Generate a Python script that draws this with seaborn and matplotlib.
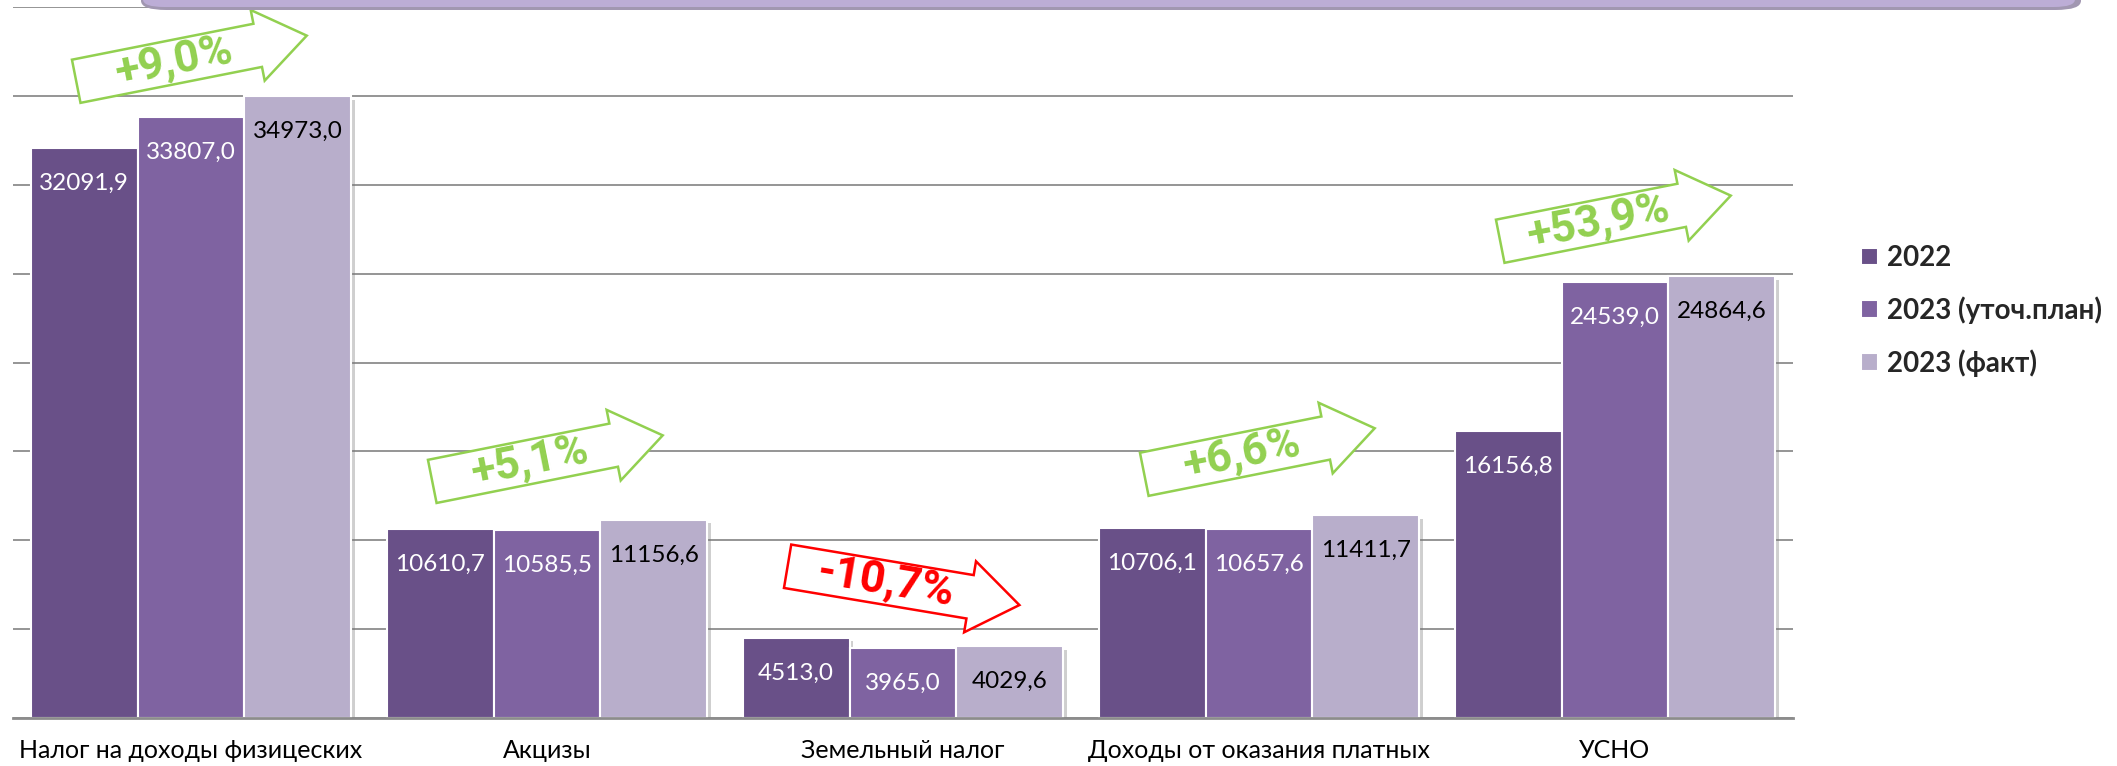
import numpy as np
import pandas as pd
import matplotlib
matplotlib.use("Agg")
import matplotlib.pyplot as plt
import matplotlib.transforms as mtransforms
import matplotlib.patheffects as pe
from matplotlib.patches import Polygon, FancyBboxPatch
import seaborn as sns

# --- данные ---
kategorii = ["Налог на доходы физицеских", "Акцизы", "Земельный налог",
             "Доходы от оказания платных", "УСНО"]
serii = ["2022", "2023 (уточ.план)", "2023 (факт)"]
znach_2022 = [32091.9, 10610.7, 4513.0, 10706.1, 16156.8]
znach_plan = [33807.0, 10585.5, 3965.0, 10657.6, 24539.0]
znach_fakt = [34973.0, 11156.6, 4029.6, 11411.7, 24864.6]

tsveta = ["#695088", "#7F63A1", "#B8AECB"]
tsvet_teksta = ["white", "white", "black"]

# центры стрелок (значение по оси y) и наклон
strelka_y = [37100, 14600, 7450, 15000, 28100]
strelka_ugol = [11.2, 11.3, -9.5, 11.3, 11.2]

df = pd.DataFrame({
    "kat": kategorii * 3,
    "seriya": np.repeat(serii, len(kategorii)),
    "val": znach_2022 + znach_plan + znach_fakt,
})

sns.set_style("white")
plt.rcParams["font.family"] = ["Lato", "Open Sans", "DejaVu Sans"]

fig = plt.figure(figsize=(21.17, 7.66), dpi=100)
ax = fig.add_axes([13 / 2117, 48 / 766, 1780 / 2117, 711 / 766])

sns.barplot(data=df, x="kat", y="val", hue="seriya", palette=tsveta,
            width=0.9, gap=0, saturation=1, edgecolor="white", linewidth=1.5,
            ax=ax)

ten = [pe.SimplePatchShadow(offset=(2.5, -2.5), shadow_rgbFace="#777777", alpha=0.35), pe.Normal()]
for k, cont in enumerate(ax.containers):
    for bar in cont:
        bar.set_path_effects(ten)
    podpisi = [f"{b.get_height():.1f}".replace(".", ",") for b in cont]
    ax.bar_label(cont, labels=podpisi, padding=-33, color=tsvet_teksta[k], fontsize=17.5)

# оси и сетка
ax.set_xlim(-0.5, 4.5)
ax.set_ylim(0, 40000)
ax.set_yticks(np.arange(0, 40001, 5000))
ax.set_yticklabels([])
ax.yaxis.grid(True, color="#8C8C8C", linewidth=1.3)
ax.set_axisbelow(True)
ax.tick_params(axis="y", length=0)
ax.set_xlabel("")
ax.set_ylabel("")
for s in ["top", "right", "left"]:
    ax.spines[s].set_visible(False)
ax.spines["bottom"].set_color("#8C8C8C")
ax.spines["bottom"].set_linewidth(2)
ax.set_xticks(np.arange(-0.5, 5, 1), minor=True)
ax.tick_params(axis="x", which="major", length=0, pad=15, labelsize=18, labelcolor="black")
ax.tick_params(axis="x", which="minor", length=9, width=1.2, color="#8C8C8C")

# легенда
sns.move_legend(ax, loc="center left", bbox_to_anchor=(1836 / 2117, 1 - 311 / 766),
                bbox_transform=fig.transFigure, frameon=False, title=None,
                prop={"weight": "bold", "size": 20}, handlelength=0.6, handleheight=0.6,
                handletextpad=0.35, labelspacing=0.9)

# стрелки с процентом изменения
forma = np.array([(-117, -22), (68, -22), (68, -36), (118, 0), (68, 36), (68, 22), (-117, 22)])
for i in range(len(kategorii)):
    izm = (znach_fakt[i] / znach_2022[i] - 1) * 100
    tekst = f"{izm:+.1f}%".replace(".", ",")
    col = "#92D050" if izm >= 0 else "#FF0000"
    ugol = strelka_ugol[i]
    tr = mtransforms.Affine2D().rotate_deg(ugol) + \
        mtransforms.ScaledTranslation(i, strelka_y[i], ax.transData)
    ax.add_patch(Polygon(forma, closed=True, facecolor="white", edgecolor=col,
                         linewidth=1.8, transform=tr, clip_on=False, zorder=5))
    r = np.deg2rad(ugol)
    ax.annotate(tekst, xy=(i, strelka_y[i]), xytext=(-17 * np.cos(r), -17 * np.sin(r)),
                textcoords="offset pixels", rotation=ugol, rotation_mode="anchor",
                ha="center", va="center", color=col, fontsize=32, fontweight="bold",
                family=["Roboto", "DejaVu Sans"], zorder=6)

# полоса сверху
fig.patches.append(FancyBboxPatch((141 / 2117, 1 - 10 / 766), 1940 / 2117, 40 / 766,
                                  boxstyle="round,pad=0,rounding_size=0.012",
                                  transform=fig.transFigure, facecolor="#A197B1",
                                  edgecolor="none", zorder=10))
fig.patches.append(FancyBboxPatch((143 / 2117, 1 - 7 / 766), 1932 / 2117, 40 / 766,
                                  boxstyle="round,pad=0,rounding_size=0.01",
                                  transform=fig.transFigure, facecolor="#BCADD6",
                                  edgecolor="none", zorder=11))

fig.savefig("out.png", dpi=100)
